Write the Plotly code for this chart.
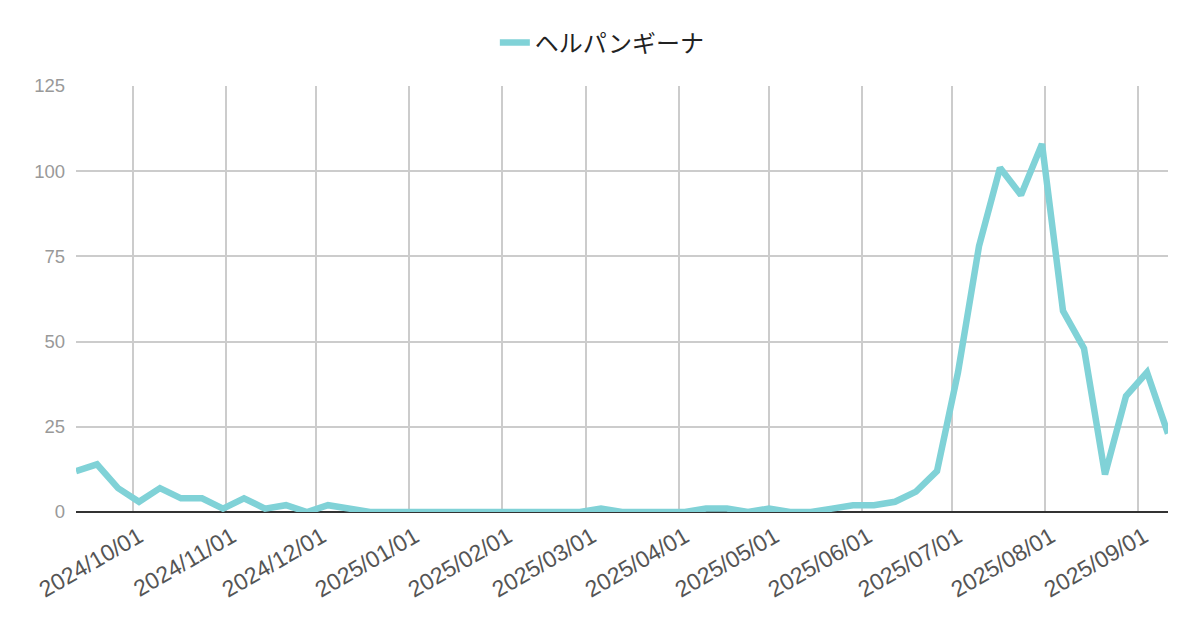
import pandas as pd
import plotly.graph_objects as go

# weekly counts
series_name = 'ヘルパンギーナ'
counts = [12, 14, 7, 3, 7, 4, 4, 1, 4, 1,
          2, 0, 2, 1, 0, 0, 0, 0, 0, 0,
          0, 0, 0, 0, 0, 1, 0, 0, 0, 0,
          1, 1, 0, 1, 0, 0, 1, 2, 2, 3,
          6, 12, 41, 78, 101, 93, 108, 59, 48, 11,
          34, 41, 23]
weeks = pd.date_range('2024-09-12', periods=len(counts), freq='7D')

y_ticks = [0, 25, 50, 75, 100, 125]

font_fam = 'Arial, Liberation Sans, Noto Sans CJK JP, sans-serif'

fig = go.Figure()
fig.add_trace(go.Scatter(x=weeks,
                         y=counts,
                         mode='lines',
                         name=series_name,
                         line={'color': '#80d2d7', 'width': 6.5}))

# page body has an 8px margin, so margins are set 8px tighter on top/left
fig.update_layout(
    width=1200, height=626,
    margin={'l': 68, 'r': 40, 't': 78, 'b': 122},
    paper_bgcolor='white',
    plot_bgcolor='white',
    showlegend=True,
    legend={'orientation': 'h',
            'x': 0.482, 'xanchor': 'center',
            'y': 1.101, 'yanchor': 'middle',
            'font': {'family': 'Noto Sans CJK JP, Arial, sans-serif',
                     'size': 24, 'color': '#222222'}},
    xaxis={'type': 'date',
           'automargin': False,
           'range': [weeks[0], weeks[-1]],
           'tick0': '2024-10-01',
           'dtick': 'M1',
           'tickformat': '%Y/%m/%d',
           'tickangle': -30,
           'tickfont': {'family': font_fam, 'size': 23, 'color': '#555555'},
           'ticklabelshift': 6,
           'ticklabelstandoff': 6,
           'showgrid': True,
           'gridcolor': '#cccccc',
           'gridwidth': 1.5,
           'zeroline': False,
           'showline': False,
           'ticks': ''},
    yaxis={'range': [0, 125],
           'automargin': False,
           'tickvals': y_ticks,
           'tickfont': {'family': font_fam, 'size': 18.5, 'color': '#999999'},
           'showgrid': True,
           'gridcolor': '#cccccc',
           'gridwidth': 1.5,
           'zeroline': True,
           'zerolinecolor': '#333333',
           'zerolinewidth': 2,
           'showline': False,
           'ticks': '',
           'ticklabelstandoff': 10},
)

fig.write_html('out.html')
